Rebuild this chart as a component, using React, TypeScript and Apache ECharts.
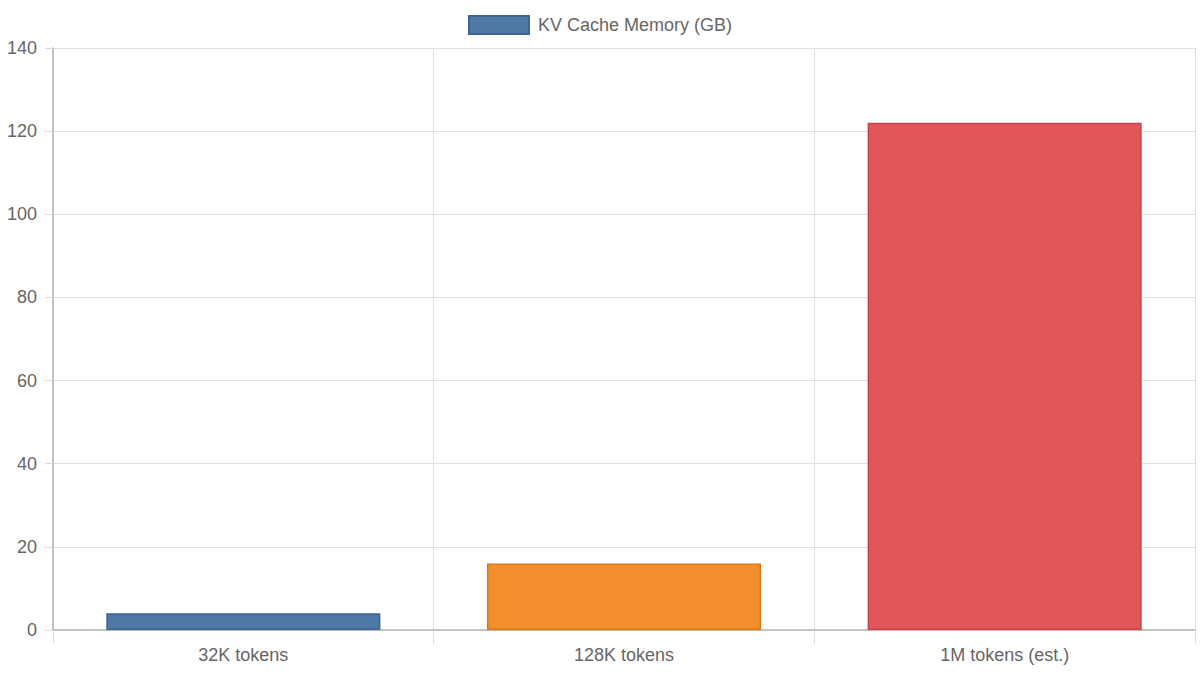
import React, { useEffect, useRef } from "react";
import * as echarts from "echarts";

const categories = ["32K tokens", "128K tokens", "1M tokens (est.)"];
const values = [4, 16, 122];
const barColors = ["#4e79a7", "#f28e2b", "#e15759"];
const barBorders = ["#3b6592", "#d9781a", "#c9434a"];
const seriesName = "KV Cache Memory (GB)";

export default function App() {
  const ref = useRef<HTMLDivElement>(null);
  useEffect(() => {
    if (!ref.current) return;
    const chart = echarts.init(ref.current, null, { renderer: "svg" });
    const font = "'Liberation Sans', Arial, Helvetica, sans-serif";
    chart.setOption({
      animation: false,
      textStyle: { fontFamily: font },
      legend: {
        top: 10,
        left: "center",
        icon: "rect",
        itemWidth: 60,
        itemHeight: 18,
        itemGap: 10,
        textStyle: { fontSize: 18, color: "#666", fontFamily: font, padding: [0, 0, 0, 4] },
        data: [seriesName],
      },
      grid: { left: 53, right: 5, top: 48, bottom: 45, containLabel: false },
      xAxis: {
        type: "category",
        data: categories,
        boundaryGap: true,
        axisLine: { show: true, lineStyle: { color: "#b3b3b3", width: 1.5 } },
        axisTick: { show: true, length: 14, alignWithLabel: false, lineStyle: { color: "#dcdcdc" } },
        axisLabel: { fontSize: 18, color: "#666", margin: 16, fontFamily: font },
        splitLine: { show: true, lineStyle: { color: "#e0e0e0" } },
      },
      yAxis: {
        type: "value",
        min: 0,
        max: 140,
        interval: 20,
        axisLine: { show: true, lineStyle: { color: "#b3b3b3", width: 1.5 } },
        axisTick: { show: true, length: 8, lineStyle: { color: "#dcdcdc" } },
        axisLabel: { fontSize: 18, color: "#666", margin: 16, fontFamily: font },
        splitLine: { show: true, lineStyle: { color: "#e0e0e0" } },
      },
      series: [
        {
          name: seriesName,
          type: "bar",
          barWidth: "72%",
          itemStyle: { color: barColors[0], borderColor: barBorders[0], borderWidth: 1.5 },
          data: values.map((v, i) => ({
            value: v,
            itemStyle: { color: barColors[i], borderColor: barBorders[i], borderWidth: 1.5 },
          })),
        },
      ],
    });
    return () => chart.dispose();
  }, []);
  return (
    <div
      ref={ref}
      style={{ position: "fixed", left: 0, top: 0, width: 1200, height: 675, background: "#fff" }}
    />
  );
}
